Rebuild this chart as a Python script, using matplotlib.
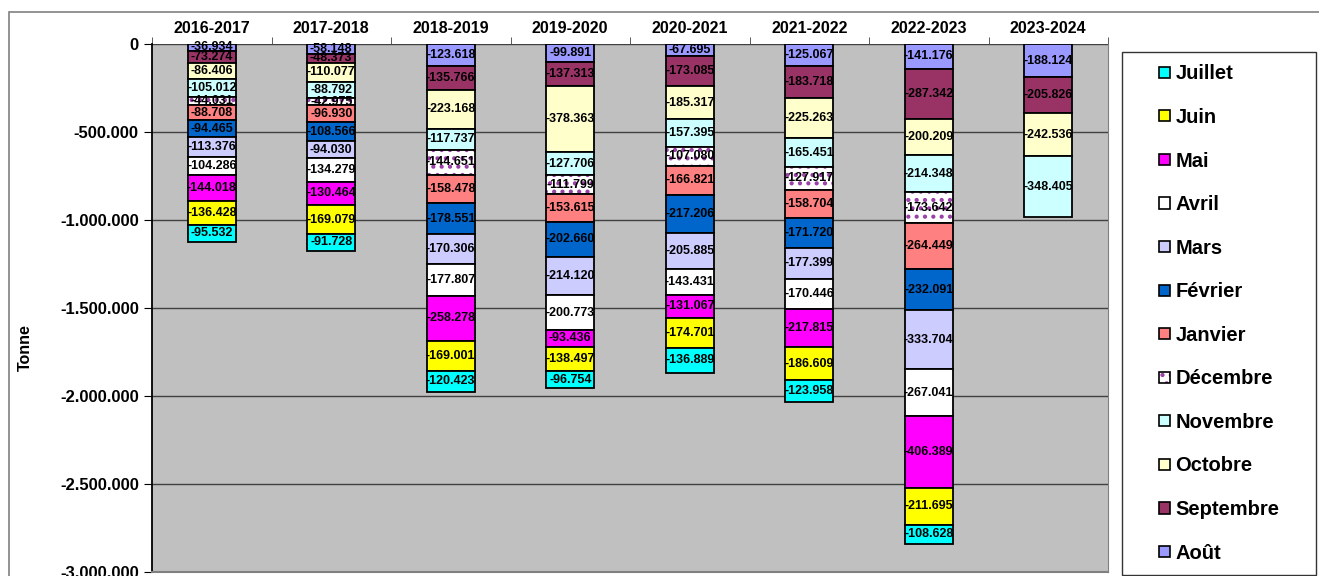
import matplotlib.pyplot as plt
import matplotlib.patches as mpatches
from matplotlib.legend_handler import HandlerPatch
import numpy as np

plt.rcParams['font.family'] = ['Liberation Sans', 'DejaVu Sans']
plt.rcParams['hatch.linewidth'] = 1.8

seasons = ["2016-2017", "2017-2018", "2018-2019", "2019-2020", "2020-2021",
           "2021-2022", "2022-2023", "2023-2024"]
# stacking order from top (0) downwards
months = ["Août", "Septembre", "Octobre", "Novembre", "Décembre", "Janvier",
          "Février", "Mars", "Avril", "Mai", "Juin", "Juillet"]

aout      = [-36934, -58148, -123618, -99891, -67695, -125067, -141176, -188124]
septembre = [-73274, -48373, -135766, -137313, -173085, -183718, -287342, -205826]
octobre   = [-86406, -110077, -223168, -378363, -185317, -225263, -200209, -242536]
novembre  = [-105012, -88792, -117737, -127706, -157395, -165451, -214348, -348405]
decembre  = [-44031, -42975, -144651, -111799, -107080, -127917, -173642, np.nan]
janvier   = [-88708, -96930, -158478, -153615, -166821, -158704, -264449, np.nan]
fevrier   = [-94465, -108566, -178551, -202660, -217206, -171720, -232091, np.nan]
mars      = [-113376, -94030, -170306, -214120, -205885, -177399, -333704, np.nan]
avril     = [-104286, -134279, -177807, -200773, -143431, -170446, -267041, np.nan]
mai       = [-144018, -130464, -258278, -93436, -131067, -217815, -406389, np.nan]
juin      = [-136428, -169079, -169001, -138497, -174701, -186609, -211695, np.nan]
juillet   = [-95532, -91728, -120423, -96754, -136889, -123958, -108628, np.nan]

series = [aout, septembre, octobre, novembre, decembre, janvier, fevrier,
          mars, avril, mai, juin, juillet]
colors = ["#9999FF", "#993366", "#FFFFCC", "#CCFFFF", "#FFFFFF", "#FF8080",
          "#0066CC", "#CCCCFF", "#FFFFFF", "#FF00FF", "#FFFF00", "#00FFFF"]
DOTS = (0.6, 0.25, 0.65, 1.0)


def fmt(v):
    s = f"{abs(int(v)):,}".replace(",", ".")
    return "-" + s


def small_square(legend, orig_handle, xdescent, ydescent, width, height, fontsize):
    s = 0.55 * fontsize
    return mpatches.Rectangle((width - xdescent - s, height / 2 - ydescent - s / 2), s, s)


W, H = 1319, 576
fig = plt.figure(figsize=(W / 100, H / 100), dpi=100)

# outer chart frame (cropped)
fig.add_artist(mpatches.Rectangle((9 / W, -0.1), 1.2, (H - 12) / H + 0.1,
                                  transform=fig.transFigure, fill=False,
                                  edgecolor="#808080", lw=1.2))

ax = fig.add_axes([152 / W, (H - 572) / H, (1108 - 152) / W, (572 - 44) / H])
ax.set_facecolor("#C0C0C0")

x = np.arange(len(seasons))
width = 0.4
bottom = np.zeros(len(seasons))
for name, vals, col in zip(months, series, colors):
    vals = np.array(vals, dtype=float)
    mask = ~np.isnan(vals)
    hatch = '..' if name == "Décembre" else None
    bars = ax.bar(x[mask], vals[mask], width, bottom=bottom[mask], color=col,
                  edgecolor="black", linewidth=1.3, hatch=hatch, zorder=3)
    if hatch:
        for b in bars:
            b._hatch_color = DOTS
    for xi, v, b0 in zip(x[mask], vals[mask], bottom[mask]):
        ax.text(xi, b0 + v / 2, fmt(v), ha="center", va="center",
                fontsize=9, fontweight="bold", color="black", zorder=4)
    bottom[mask] += vals[mask]

ax.set_ylim(-3000000, 0)
ax.set_xlim(-0.5, len(seasons) - 0.5)
yt = np.arange(-3000000, 1, 500000)
ax.set_yticks(yt)
ax.set_yticklabels([fmt(t) if t != 0 else "0" for t in yt],
                   fontsize=12, fontweight="bold")
ax.yaxis.grid(True, color="#404040", lw=1.0, zorder=0)
ax.set_axisbelow(True)

# category labels on top
ax.xaxis.tick_top()
ax.set_xticks(x)
ax.set_xticklabels(seasons, fontsize=11.5, fontweight="bold")
ax.tick_params(axis="x", length=0, pad=5.5)
ax.set_xticks(np.arange(-0.5, len(seasons), 1), minor=True)
ax.tick_params(axis="x", which="minor", length=5, color="#404040", top=True)
ax.tick_params(axis="y", length=6, direction="out", color="black")

ax.spines["top"].set_visible(False)
ax.spines["right"].set_color("#808080")
ax.spines["bottom"].set_color("#808080")
ax.spines["bottom"].set_linewidth(1.5)
ax.spines["left"].set_color("black")
ax.spines["left"].set_linewidth(1.3)

fig.text(25 / W, 1 - 348 / H, "Tonne", rotation=90, ha="center", va="center",
         fontsize=11.5, fontweight="bold")

# legend (reverse order, Juillet on top)
leg_names = months[::-1]
leg_handles = [mpatches.Patch(facecolor=colors[months.index(n)], edgecolor="black",
                              hatch='..' if n == "Décembre" else None, lw=1.2)
               for n in leg_names]
leg = fig.legend(leg_handles, leg_names, loc="center left",
                 bbox_to_anchor=(1122 / W, 1 - 572 / H, (1316 - 1122) / W, (572 - 55) / H),
                 mode="expand", frameon=True, fancybox=False, edgecolor="black",
                 prop={"size": 14.5, "weight": "bold"}, handlelength=1.8,
                 handleheight=0.7, handletextpad=0.25, labelspacing=1.22,
                 borderpad=0.6, borderaxespad=0,
                 handler_map={mpatches.Patch: HandlerPatch(patch_func=small_square)})
leg.get_frame().set_linewidth(1.0)
for p in leg.get_patches():
    if p.get_hatch():
        p._hatch_color = DOTS

fig.savefig("out.png", dpi=100)
